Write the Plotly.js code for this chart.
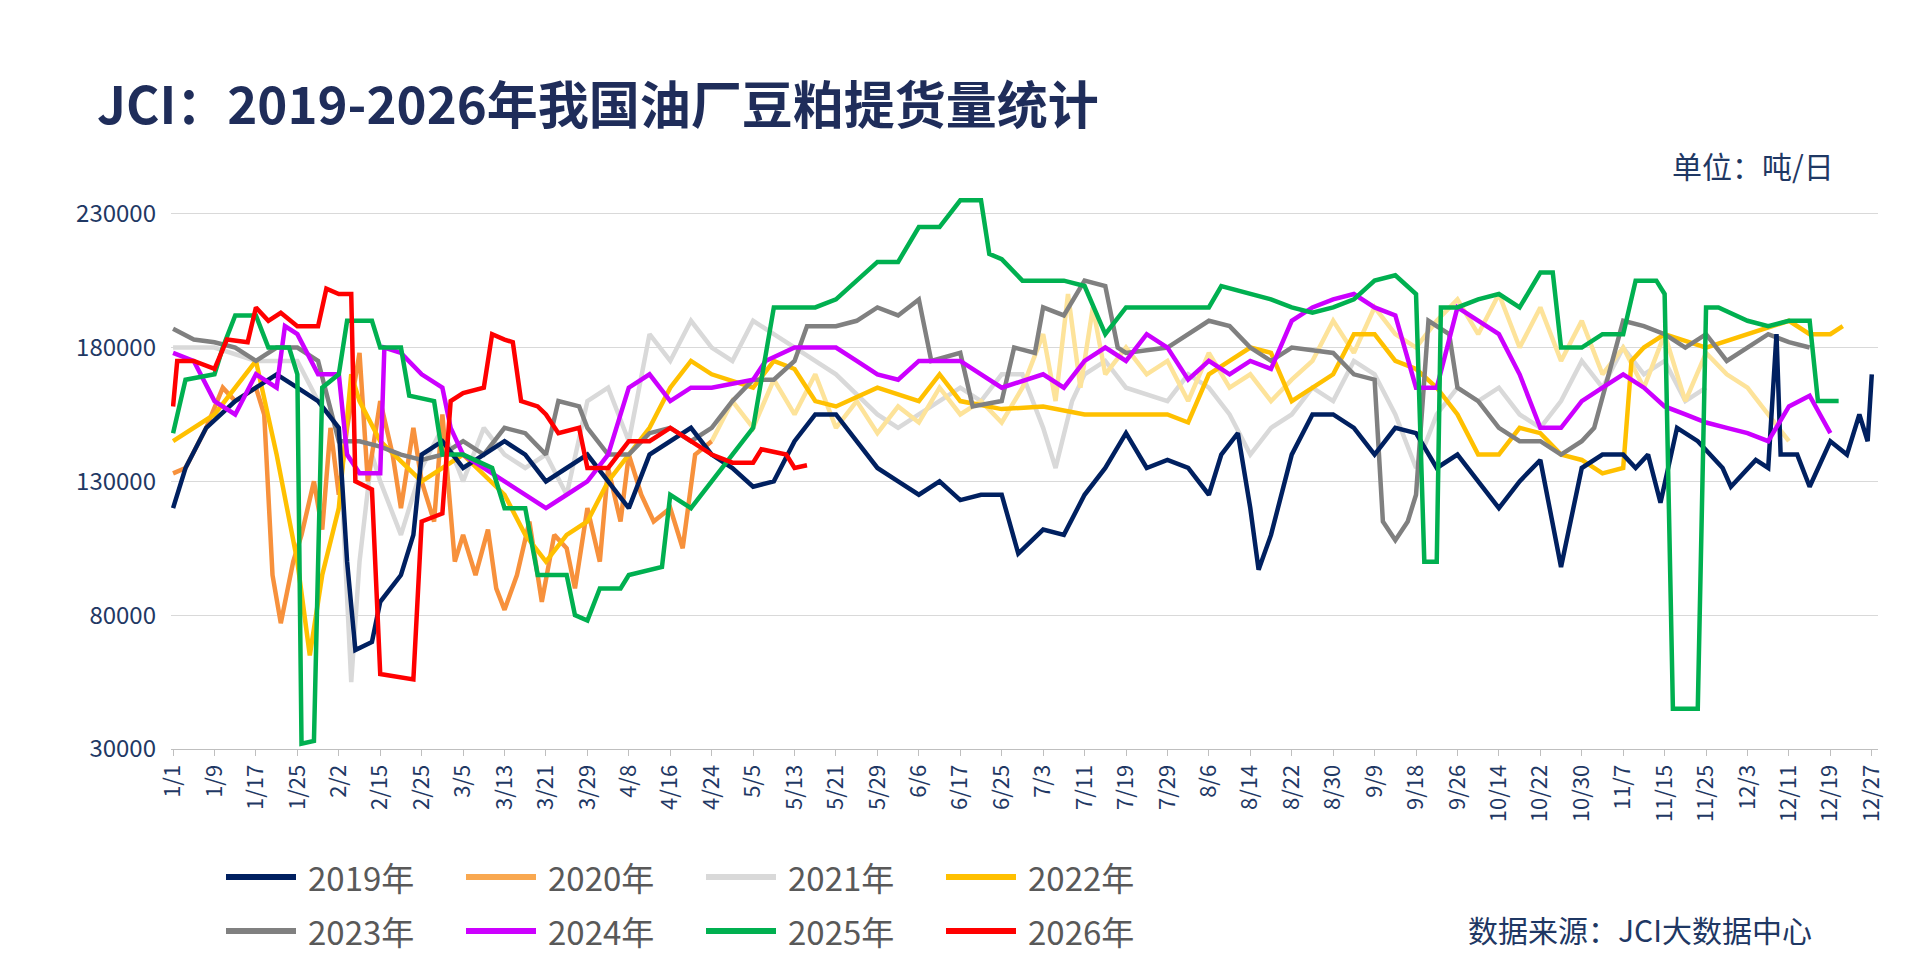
<!DOCTYPE html>
<html><head><meta charset="utf-8">
<script src="https://cdn.plot.ly/plotly-3.0.1.min.js"></script>
<style>html,body{margin:0;padding:0;background:#fff}#chart{width:1906px;height:963px}</style>
</head><body><div id="chart"></div>
<script>
// x positions are in "tick units": 0 = 1/1, each unit = one labelled tick
var tickLabels = ["1/1","1/9","1/17","1/25","2/2","2/15","2/25","3/5","3/13","3/21","3/29","4/8","4/16","4/24","5/5","5/13","5/21","5/29","6/6","6/17","6/25","7/3","7/11","7/19","7/29","8/6","8/14","8/22","8/30","9/9","9/18","9/26","10/14","10/22","10/30","11/7","11/15","11/25","12/3","12/11","12/19","12/27"];

var x2019 = [0,0.3,0.8,1.5,2,2.5,3,3.5,4,4.2,4.4,4.8,5,5.5,5.8,6,6.5,7,7.5,8,8.5,9,9.5,10,10.5,11,11.5,12,12.5,13,13.5,14,14.5,15,15.5,16,16.5,17,17.5,18,18.5,19,19.5,20,20.4,21,21.5,22,22.5,23,23.5,24,24.5,25,25.3,25.7,26,26.2,26.5,27,27.5,28,28.5,29,29.5,30,30.5,31,31.5,32,32.5,33,33.5,34,34.5,35,35.3,35.6,35.9,36.3,36.8,37.4,37.6,38.2,38.5,38.7,38.8,39.2,39.5,40,40.4,40.7,40.9,41];
var y2019 = [120000,135000,150000,160000,165000,170000,165000,160000,150000,100000,67000,70000,85000,95000,110000,140000,145000,135000,140000,145000,140000,130000,135000,140000,130000,120000,140000,145000,150000,140000,135000,128000,130000,145000,155000,155000,145000,135000,130000,125000,130000,123000,125000,125000,103000,112000,110000,125000,135000,148000,135000,138000,135000,125000,140000,148000,120000,97000,110000,140000,155000,155000,150000,140000,150000,148000,135000,140000,130000,120000,130000,138000,98000,135000,140000,140000,135000,140000,122000,150000,145000,135000,128000,138000,135000,185000,140000,140000,128000,145000,140000,155000,145000,170000,150000];

var x2020a = [0,0.3,0.8,1.2,1.5,2,2.2,2.4,2.6,2.9,3.1,3.4,3.6,3.8,4,4.2,4.5,4.7,5,5.3,5.5,5.8,6,6.3,6.5,6.8,7,7.3,7.6,7.8,8,8.3,8.6,8.9,9.2,9.5,9.7,10,10.3,10.5,10.8,11,11.3,11.6,12,12.3,12.6,13];
var y2020a = [133000,135000,150000,165000,160000,165000,155000,95000,77000,100000,110000,130000,112000,150000,125000,150000,178000,130000,160000,140000,120000,150000,130000,115000,155000,100000,110000,95000,112000,90000,82000,95000,115000,85000,110000,105000,90000,120000,100000,135000,115000,140000,125000,115000,120000,105000,140000,145000];
var x2020b = [13,13.5,14,14.5,15,15.5,16,16.5,17,17.5,18,18.5,19,19.5,20,20.5,21,21.3,21.6,21.9,22.2,22.5,23,23.5,24,24.5,25,25.5,26,26.5,27,27.5,28,28.5,29,29.5,30,30.5,31,31.5,32,32.5,33,33.5,34,34.5,35,35.5,36,36.5,37,37.5,38,38.5,39];
var y2020b = [145000,160000,150000,168000,155000,170000,150000,160000,148000,158000,152000,165000,155000,160000,152000,165000,185000,160000,200000,165000,195000,170000,180000,170000,175000,160000,178000,165000,170000,160000,168000,175000,190000,178000,195000,185000,180000,190000,198000,185000,200000,180000,195000,175000,190000,170000,180000,165000,185000,160000,178000,170000,165000,155000,145000];

var x2021 = [0,1,2,3,3.5,4,4.3,4.5,4.8,5,5.5,6,6.5,7,7.5,8,8.5,9,9.5,10,10.5,11,11.5,12,12.5,13,13.5,14,14.5,15,16,17,17.5,18,19,19.5,20,20.5,21,21.3,21.7,22,22.5,23,24,24.5,25,25.5,26,26.5,27,27.5,28,28.5,29,29.5,30,30.5,31,31.5,32,32.5,33,33.5,34,34.5,35,35.5,36,36.5,37];
var y2021 = [180000,180000,175000,175000,160000,150000,55000,100000,140000,130000,110000,135000,150000,130000,150000,140000,135000,140000,125000,160000,165000,145000,185000,175000,190000,180000,175000,190000,185000,180000,170000,155000,150000,155000,165000,160000,170000,170000,150000,135000,160000,170000,175000,165000,160000,170000,165000,155000,140000,150000,155000,165000,160000,175000,170000,155000,135000,155000,165000,160000,165000,155000,150000,160000,175000,165000,180000,170000,175000,160000,165000];

var x2022 = [0,1,2,2.5,3,3.3,3.6,4,4.3,4.5,5,6,7,8,8.5,9,9.5,10,10.5,11,11.5,12,12.5,13,14,14.5,15,15.5,16,17,18,18.5,19,20,21,22,23,24,24.5,25,25.5,26,26.5,27,28,28.5,29,29.5,30,30.5,31,31.5,32,32.5,33,33.5,34,34.5,35,35.2,35.5,36,37,38,39,39.5,40,40.3];
var y2022 = [145000,155000,175000,140000,100000,65000,95000,120000,170000,160000,145000,130000,140000,125000,110000,100000,110000,115000,130000,140000,150000,165000,175000,170000,165000,175000,172000,160000,158000,165000,160000,170000,160000,157000,158000,155000,155000,155000,152000,170000,175000,180000,178000,160000,170000,185000,185000,175000,172000,165000,155000,140000,140000,150000,148000,140000,138000,133000,135000,175000,180000,185000,180000,185000,190000,185000,185000,188000];

var x2023 = [0,0.5,1,1.5,2,2.5,3,3.5,4,4.5,5,5.5,6,6.5,7,7.5,8,8.5,9,9.3,9.8,10,10.5,11,11.5,12,12.5,13,13.5,14,14.5,15,15.3,16,16.5,17,17.5,18,18.3,19,19.3,20,20.3,20.8,21,21.5,22,22.5,22.8,23,24,24.5,25,25.5,26,26.5,27,28,28.5,29,29.2,29.5,29.8,30,30.3,30.8,31,31.5,32,32.5,33,33.5,34,34.3,35,35.5,36,36.5,37,37.5,38,38.5,39,39.5];
var y2023 = [187000,183000,182000,180000,175000,180000,180000,175000,145000,145000,143000,140000,138000,140000,145000,140000,150000,148000,140000,160000,158000,150000,140000,140000,148000,150000,145000,150000,160000,168000,168000,175000,188000,188000,190000,195000,192000,198000,175000,178000,158000,160000,180000,178000,195000,192000,205000,203000,180000,178000,180000,185000,190000,188000,180000,175000,180000,178000,170000,168000,115000,108000,115000,125000,190000,185000,165000,160000,150000,145000,145000,140000,145000,150000,190000,188000,185000,180000,185000,175000,180000,185000,182000,180000];

var x2024 = [0,0.5,1,1.5,2,2.5,2.7,3,3.5,4,4.2,4.5,5,5.1,5.5,6,6.5,6.7,7,7.5,8,8.5,9,9.5,10,10.5,11,11.5,12,12.5,13,14,14.3,15,16,16.5,17,17.5,18,19,19.5,20,21,21.5,22,22.5,23,23.5,24,24.5,25,25.5,26,26.5,27,27.5,28,28.5,29,29.5,30,30.5,31,31.5,32,32.5,33,33.5,34,34.5,35,35.5,36,36.5,37,37.5,38,38.5,39,39.5,40];
var y2024 = [178000,175000,160000,155000,170000,165000,188000,185000,170000,170000,140000,133000,133000,180000,178000,170000,165000,150000,140000,135000,130000,125000,120000,125000,130000,140000,165000,170000,160000,165000,165000,168000,175000,180000,180000,175000,170000,168000,175000,175000,170000,165000,170000,165000,175000,180000,175000,185000,180000,168000,175000,170000,175000,172000,190000,195000,198000,200000,195000,192000,165000,165000,195000,190000,185000,170000,150000,150000,160000,165000,170000,165000,158000,155000,152000,150000,148000,145000,158000,162000,148000];

var x2025 = [0,0.3,1,1.2,1.5,2,2.3,2.8,3,3.1,3.4,3.6,4,4.2,4.8,5,5.5,5.7,6.3,6.5,7,7.7,8,8.5,8.8,9.5,9.7,10,10.3,10.8,11,11.8,12,12.5,13,13.5,14,14.5,15,15.5,16,16.5,17,17.5,18,18.5,19,19.5,19.7,20,20.5,21,21.5,22,22.5,23,24,25,25.3,26,26.5,27,27.5,28,28.5,29,29.5,30,30.2,30.5,30.6,31,31.5,32,32.5,33,33.3,33.5,34,34.5,35,35.3,35.8,36,36.2,36.8,37,37.3,38,38.5,39,39.5,39.7,40.2];
var y2025 = [148000,168000,170000,180000,192000,192000,180000,180000,170000,32000,33000,165000,170000,190000,190000,180000,180000,162000,160000,140000,140000,135000,120000,120000,95000,95000,80000,78000,90000,90000,95000,98000,125000,120000,130000,140000,150000,195000,195000,195000,198000,205000,212000,212000,225000,225000,235000,235000,215000,213000,205000,205000,205000,203000,185000,195000,195000,195000,203000,200000,198000,195000,193000,195000,198000,205000,207000,200000,100000,100000,195000,195000,198000,200000,195000,208000,208000,180000,180000,185000,185000,205000,205000,200000,45000,45000,195000,195000,190000,188000,190000,190000,160000,160000];

var x2026 = [0,0.1,0.5,1,1.3,1.8,2,2.3,2.6,3,3.5,3.7,4,4.3,4.4,4.8,5,5.5,5.8,6,6.5,6.7,7,7.5,7.7,8,8.2,8.4,8.8,9,9.3,9.8,10,10.5,11,11.5,12,12.5,13,13.5,14,14.2,14.8,15,15.3];
var y2026 = [158000,175000,175000,172000,183000,182000,195000,190000,193000,188000,188000,202000,200000,200000,130000,127000,58000,57000,56000,115000,118000,160000,163000,165000,185000,183000,182000,160000,158000,155000,148000,150000,135000,135000,145000,145000,150000,145000,140000,137000,137000,142000,140000,135000,136000];

var legendNames = ["2019年","2020年","2021年","2022年","2023年","2024年","2025年","2026年"];
var legendColors = ["#002060","#f9a850","#d9d9d9","#ffc000","#808080","#cc00ff","#00b050","#ff0000"];

var traces = [
  {x: x2021, y: y2021, c: "#d9d9d9"},
  {x: x2020b, y: y2020b, c: "#fde39a"},
  {x: x2020a, y: y2020a, c: "#f7913c"},
  {x: x2022, y: y2022, c: "#ffc000"},
  {x: x2023, y: y2023, c: "#808080"},
  {x: x2019, y: y2019, c: "#002060"},
  {x: x2024, y: y2024, c: "#cc00ff"},
  {x: x2025, y: y2025, c: "#00b050"},
  {x: x2026, y: y2026, c: "#ff0000"}
].map(function (s) {
  return {x: s.x, y: s.y, type: "scatter", mode: "lines", line: {color: s.c, width: 4.5}, showlegend: false, hoverinfo: "skip"};
});

var T = 195, B = 214, PH = 963 - T - B;
var ann = [
  {text: "<b>JCI：2019-2026年我国油厂豆粕提货量统计</b>", x: 95, y: 102, font: {size: 51, color: "#1f2d5a"}, xanchor: "left"},
  {text: "单位：吨/日", x: 1836, y: 165, font: {size: 30, color: "#1f3864"}, xanchor: "right"},
  {text: "数据来源：JCI大数据中心", x: 1814, y: 929, font: {size: 30, color: "#1f3864"}, xanchor: "right"}
];
var shapes = [];
legendNames.forEach(function (n, i) {
  var col = i % 4, row = Math.floor(i / 4);
  var x0 = 226 + col * 240, yy = 877 + row * 54;
  shapes.push({type: "line", xref: "paper", yref: "paper", x0: (x0 - 171) / 1707, x1: (x0 + 70 - 171) / 1707,
    y0: (963 - B - yy) / PH, y1: (963 - B - yy) / PH, line: {color: legendColors[i], width: 6}});
  ann.push({text: n, x: x0 + 80, y: yy, font: {size: 33, color: "#595959"}, xanchor: "left"});
});
var annotations = ann.map(function (a) {
  return {text: a.text, xref: "paper", yref: "paper", x: (a.x - 171) / 1707, y: (963 - B - a.y) / PH,
    xanchor: a.xanchor, yanchor: "middle", showarrow: false, font: Object.assign({family: "Noto Sans CJK SC"}, a.font)};
});

var layout = {
  width: 1906, height: 963,
  paper_bgcolor: "#fff", plot_bgcolor: "#fff",
  font: {family: "Noto Sans CJK SC, Noto Sans", color: "#1f3864"},
  margin: {l: 171, r: 28, t: T, b: B},
  xaxis: {range: [-0.05, 41.15], tickvals: tickLabels.map(function (t, i) { return i; }), ticktext: tickLabels,
    tickangle: -90, tickfont: {size: 22, color: "#1f3864"}, showgrid: false, zeroline: false,
    showline: true, linecolor: "#bfbfbf", ticks: "outside", ticklen: 6, tickcolor: "#bfbfbf"},
  yaxis: {range: [30000, 237000], tickvals: [30000, 80000, 130000, 180000, 230000], tickformat: "d",
    tickfont: {size: 24, color: "#1f3864"}, gridcolor: "#d9d9d9", zeroline: false, showline: false, ticklabelstandoff: 14},
  shapes: shapes, annotations: annotations, showlegend: false
};
Plotly.newPlot("chart", traces, layout, {displayModeBar: false});
</script></body></html>
